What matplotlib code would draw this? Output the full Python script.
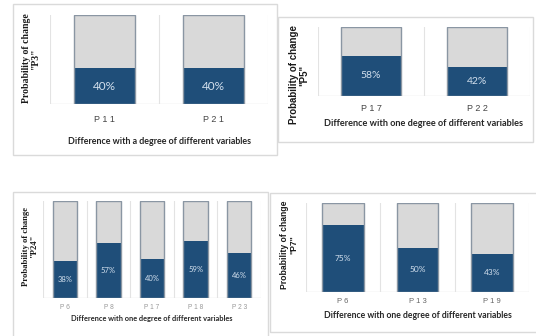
import matplotlib.pyplot as plt
from matplotlib.patches import Rectangle

W, H = 536, 336

# probability of change for each variable (percent)
p3_labels = ['P11', 'P21']
p3_values = [40, 40]

p5_labels = ['P17', 'P22']
p5_values = [58, 42]

p24_labels = ['P6', 'P8', 'P17', 'P18', 'P23']
p24_values = [38, 57, 40, 59, 46]

p7_labels = ['P6', 'P13', 'P19']
p7_values = [75, 50, 43]

DARK = '#1F4E79'
LIGHT = '#D9D9D9'
EDGE = '#8A96A3'
GRID = '#E3E3E3'
FRAME = '#DADADA'


def px_box(left, top, right, bottom):
    # pixel box -> figure fraction [x, y, w, h]
    return [left / W, 1 - bottom / H, (right - left) / W, (bottom - top) / H]


def frame(left, top, right, bottom):
    x, y, w, h = px_box(left, top, right, bottom)
    fig.add_artist(Rectangle((x, y), w, h, transform=fig.transFigure,
                             fill=False, ec=FRAME, lw=1.0))


def panel(box, labels, values, ylabel, xlabel, yfont, tick_pad, xlab_y, ylab_xy,
          vsize=7, tsize=6.5, xsize=7, ysize=7, tcolor='#555555'):
    ax = fig.add_axes(px_box(*box))
    n = len(values)
    x = list(range(n))
    rest = [100 - v for v in values]
    ax.bar(x, values, width=0.56, color=DARK, zorder=3)
    ax.bar(x, rest, bottom=values, width=0.56, color=LIGHT, zorder=3)
    ax.bar(x, [100] * n, width=0.56, fill=False, ec=EDGE, lw=1.0, zorder=4)
    for xi, v in zip(x, values):
        ax.text(xi, v / 2, f'{v}%', ha='center', va='center', color='#D3E0EE',
                fontsize=vsize, family='Lato', zorder=5)
    for b in range(n + 1):
        ax.axvline(b - 0.5, color=GRID, lw=0.8, zorder=1)
    ax.set_xlim(-0.5, n - 0.5)
    ax.set_ylim(0, 100)
    for s in ax.spines.values():
        s.set_visible(False)
    ax.axhline(0, color=GRID, lw=1.0, zorder=2)
    ax.set_yticks([])
    ax.set_xticks(x)
    ax.set_xticklabels([' '.join(l) for l in labels], fontsize=tsize,
                       color=tcolor, family='Liberation Sans')
    ax.tick_params(axis='x', length=0, pad=tick_pad)
    left, top, right, bottom = box
    hgt = bottom - top
    ax.set_xlabel(xlabel, fontsize=xsize, fontweight='bold', family='Lato',
                  color='#262626', va='center')
    ax.xaxis.set_label_coords(0.5, (bottom - xlab_y) / hgt)
    ax.set_ylabel(ylabel, fontsize=ysize, fontweight='bold', family=yfont,
                  color='#1a1a1a', va='center', linespacing=1.1)
    ax.yaxis.set_label_coords((ylab_xy[0] - left) / (right - left),
                              (bottom - ylab_xy[1]) / hgt)
    return ax


fig = plt.figure(figsize=(W / 100, H / 100), dpi=100)

frame(13, 4, 277, 155)
frame(278, 17, 533, 142)
frame(13, 192, 268, 345)
frame(270, 193, 540, 332)

panel((50, 15, 268, 104), p3_labels, p3_values,
      'Probability of change\n"P3"', 'Difference with a degree of different variables',
      'Liberation Serif', 8, 142, (31, 58), vsize=8.5, tsize=6.5, xsize=6.4,
      ysize=7, tcolor='#444444')
panel((318, 27, 530, 96), p5_labels, p5_values,
      'Probability of change\n"P5"', 'Difference with one degree of different variables',
      'Liberation Sans', 6, 123, (299, 75), vsize=7.5, tsize=6.5, xsize=6.6,
      ysize=7, tcolor='#444444')
panel((43, 201, 261, 298), p24_labels, p24_values,
      'Probability of change\n"P24"', 'Difference with one degree of different variables',
      'Liberation Serif', 4.5, 318, (30, 246), vsize=5.5, tsize=4.8, xsize=5.3,
      ysize=6.2, tcolor='#999999')
panel((306, 203, 529, 292), p7_labels, p7_values,
      'Probability of change\n"P7"', 'Difference with one degree of different variables',
      'Liberation Sans', 4.3, 316, (289, 245), vsize=6, tsize=5.5, xsize=6.2,
      ysize=6.2, tcolor='#666666')

fig.savefig('out.png', dpi=100)
